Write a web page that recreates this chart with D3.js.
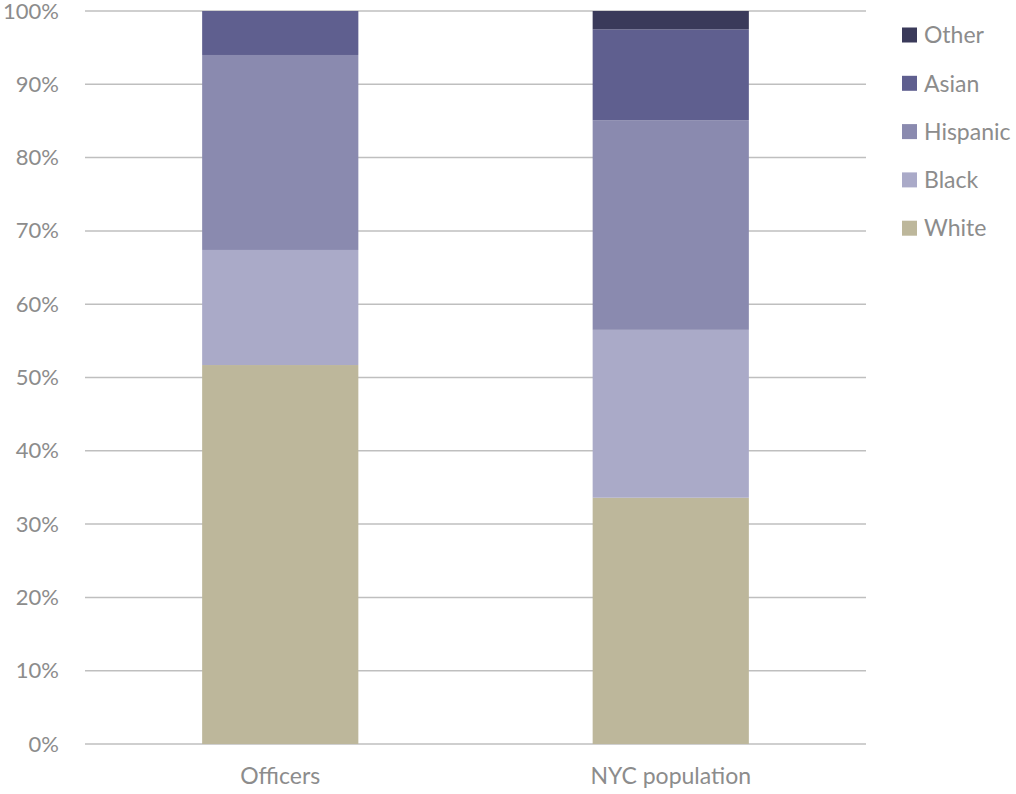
<!DOCTYPE html>
<html><head><meta charset="utf-8">
<script src="https://cdn.jsdelivr.net/npm/d3@7"></script>
<style>body{margin:0;background:#fff;overflow:hidden}svg{display:block}</style>
</head><body><svg id="c" width="1016" height="794"></svg>
<script>
const categories = ["Officers", "NYC population"];
const seriesNames = ["White", "Black", "Hispanic", "Asian", "Other"];
const white    = [51.7, 33.6];
const black    = [15.7, 22.9];
const hispanic = [26.6, 28.6];
const asian    = [6.0, 12.4];
const other    = [0.0, 2.5];
const yTicks = [0,10,20,30,40,50,60,70,80,90,100];
const colors = ["#bdb79b", "#aaaac8", "#8a8aaf", "#5f5f8f", "#3a3a5a"];

const seriesVals = [white, black, hispanic, asian, other];
const table = categories.map((c, i) => {
  const o = {cat: c};
  seriesNames.forEach((s, j) => o[s] = seriesVals[j][i]);
  return o;
});
const stack = d3.stack().keys(seriesNames)(table);

const svg = d3.select("#c");
const font = "Lato, 'Liberation Sans', sans-serif";
const x = d3.scaleBand().domain(categories).range([85, 866]).paddingInner(0.6).paddingOuter(0.3);
const y = d3.scaleLinear().domain([0, 100]).range([744, 11]);

// gridlines
svg.append("g").selectAll("line").data(yTicks).join("line")
  .attr("x1", 85).attr("x2", 866)
  .attr("y1", d => y(d)).attr("y2", d => y(d))
  .attr("stroke", "#bfbfbf").attr("stroke-width", 1.5);

// bars
svg.append("g").selectAll("g").data(stack).join("g")
  .attr("fill", (d, i) => colors[i])
  .selectAll("rect").data(d => d).join("rect")
  .attr("x", d => x(d.data.cat))
  .attr("width", x.bandwidth())
  .attr("y", d => y(d[1]))
  .attr("height", d => Math.max(0, y(d[0]) - y(d[1])));

// y axis
const yAxis = d3.axisLeft(y).tickValues(yTicks).tickFormat(d => d + "%").tickSize(0).tickPadding(0);
const ya = svg.append("g").attr("transform", "translate(59,0)").call(yAxis);
ya.select(".domain").remove();
ya.selectAll("text").attr("font-family", font).attr("font-size", 22).attr("fill", "#8c8c8c");

// x axis
const xAxis = d3.axisBottom(x).tickSize(0).tickPadding(0);
const xa = svg.append("g").attr("transform", "translate(0,768)").call(xAxis);
xa.select(".domain").remove();
xa.selectAll("text").attr("font-family", font).attr("font-size", 23).attr("fill", "#8c8c8c");

// legend
const legendOrder = seriesNames.slice().reverse();
const lg = svg.append("g").selectAll("g").data(legendOrder).join("g")
  .attr("transform", (d, i) => `translate(902,${35 + i * 48.3})`);
lg.append("rect").attr("x", 0).attr("y", -7.5).attr("width", 15).attr("height", 15)
  .attr("fill", d => colors[seriesNames.indexOf(d)]);
lg.append("text").attr("x", 22).attr("y", 0).attr("dy", "0.36em")
  .attr("font-family", font).attr("font-size", 23).attr("fill", "#8c8c8c").text(d => d);
</script></body></html>
